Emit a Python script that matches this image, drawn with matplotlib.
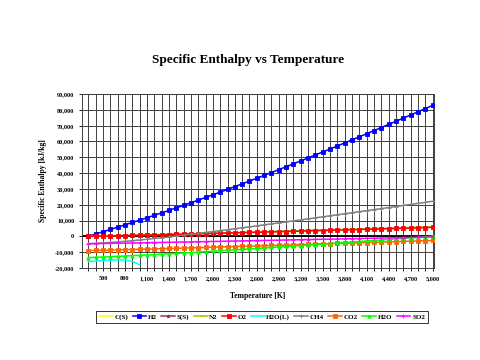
import matplotlib
matplotlib.use("Agg")
import matplotlib.pyplot as plt
from matplotlib.ticker import FuncFormatter

plt.rcParams['font.family'] = ['Liberation Serif', 'DejaVu Serif']

# Temperatures [K]
T = [298, 400, 500, 600, 700, 800, 900, 1000, 1100, 1200, 1300, 1400, 1500, 1600,
     1700, 1800, 1900, 2000, 2100, 2200, 2300, 2400, 2500, 2600, 2700, 2800, 2900,
     3000, 3100, 3200, 3300, 3400, 3500, 3600, 3700, 3800, 3900, 4000, 4100, 4200,
     4300, 4400, 4500, 4600, 4700, 4800, 4900, 5000]

# Specific enthalpy [kJ/kg]
C_S = [0, 87, 198, 317]
S_S = [0, 110]
H2 = [0, 1468, 2918, 4371, 5828, 7293, 8768, 10258, 11765, 13292, 14840, 16410,
      18001, 19614, 21248, 22901, 24574, 26265, 27975, 29701, 31442, 33199, 34969,
      36754, 38552, 40362, 42184, 44018, 45863, 47719, 49586, 51463, 53351, 55248,
      57155, 59072, 60998, 62934, 64879, 66832, 68796, 70767, 72748, 74737, 76735,
      78741, 80754, 82776]
N2 = [0, 106, 211, 317, 426, 537, 651, 766, 884, 1003, 1125, 1247, 1371, 1496,
      1622, 1748, 1876, 2004, 2133, 2262, 2392, 2522, 2652, 2783, 2914, 3046, 3178,
      3310, 3442, 3575, 3707, 3840, 3973, 4107, 4240, 4374, 4508, 4642, 4776, 4910,
      5045, 5179, 5314, 5449, 5584, 5720, 5855, 5991]
O2 = [0, 95, 190, 289, 391, 495, 601, 709, 819, 930, 1042, 1155, 1269, 1383, 1499,
      1615, 1732, 1849, 1968, 2087, 2206, 2327, 2448, 2569, 2692, 2815, 2939, 3063,
      3188, 3313, 3439, 3566, 3693, 3820, 3948, 4077, 4205, 4334, 4464, 4594, 4725,
      4855, 4987, 5118, 5250, 5383, 5515, 5648]
H2O_L = [-15900, -15600, -15300, -15050, -14900, -14950, -15800, -17900]
CH4 = [-4667, -4426, -4156, -3849, -3505, -3129, -2722, -2287, -1828, -1347, -846,
       -328, 204, 750, 1308, 1875, 2452, 3037, 3629, 4227, 4831, 5440, 6053, 6671,
       7292, 7917, 8545, 9175, 9809, 10445, 11083, 11723, 12365, 13009, 13654, 14302,
       14951, 15602, 16254, 16908, 17563, 18219, 18876, 19535, 20194, 20855, 21516,
       22179]
CO2 = [-8942, -8851, -8753, -8648, -8538, -8423, -8305, -8183, -8058, -7931, -7802,
       -7672, -7540, -7406, -7272, -7137, -7001, -6864, -6727, -6589, -6450, -6311,
       -6171, -6032, -5891, -5751, -5610, -5469, -5327, -5185, -5043, -4901, -4758,
       -4616, -4473, -4329, -4186, -4042, -3898, -3754, -3610, -3466, -3321, -3176,
       -3032, -2886, -2741, -2596]
H2O = [-13424, -13232, -13039, -12841, -12636, -12424, -12206, -11980, -11748,
       -11508, -11262, -11009, -10751, -10487, -10218, -9944, -9665, -9383, -9097,
       -8808, -8515, -8220, -7922, -7622, -7319, -7014, -6708, -6399, -6089, -5777,
       -5463, -5149, -4833, -4515, -4197, -3877, -3556, -3235, -2912, -2589, -2264,
       -1939, -1613, -1287, -959, -631, -302, 27]
SO2 = [-4634, -4567, -4497, -4422, -4344, -4263, -4180, -4096, -4011, -3924, -3836,
       -3748, -3659, -3570, -3480, -3390, -3300, -3209, -3118, -3027, -2935, -2844,
       -2752, -2660, -2567, -2475, -2382, -2289, -2196, -2103, -2010, -1917, -1823,
       -1729, -1636, -1542, -1448, -1354, -1260, -1166, -1071, -977, -882, -788, -693,
       -598, -503, -409]

series = [
    ("C(S)", C_S, "#FFFF00", None),
    ("H2", H2, "#0000FF", "s"),
    ("S(S)", S_S, "#993366", "*"),
    ("N2", N2, "#99CC00", "_"),
    ("O2", O2, "#FF0000", "s"),
    ("H2O(L)", H2O_L, "#00FFFF", None),
    ("CH4", CH4, "#808080", "+"),
    ("CO2", CO2, "#FF6600", "s"),
    ("H2O", H2O, "#00FF00", "^"),
    ("SO2", SO2, "#FF00FF", "+"),
]

fig = plt.figure(figsize=(4.8, 3.6), dpi=100)
ax = fig.add_axes([82/480, 1-268/360, (434-82)/480, (268-94)/360])

ax.axhline(0, color='black', lw=1.3, zorder=1.5)
for name, vals, col, mk in series:
    ax.plot(T[:len(vals)], vals, color=col, lw=1.1, marker=mk, markersize=2.4,
            markeredgewidth=0.6, label=name, zorder=3)

ax.set_xlim(213, 5020)
ax.set_ylim(-20000, 90000)
ax.set_yticks(range(-20000, 90001, 10000))
ax.yaxis.set_major_formatter(FuncFormatter(lambda v, p: f"{int(v):,}"))
ax.set_xticks(T)
ax.set_xticklabels([f"{t:,}" if (t >= 500 and (t - 500) % 300 == 0) else "" for t in T])
ax.grid(True, color='#404040', lw=0.7)
ax.set_axisbelow(True)
ax.tick_params(axis='both', labelsize=4.5, length=2, width=0.6, direction='out')
for lab in ax.get_xticklabels() + ax.get_yticklabels():
    lab.set_fontweight('bold')
for s in ax.spines.values():
    s.set_color('#404040')
    s.set_linewidth(0.7)

ax.set_xlabel("Temperature [K]", fontsize=5.5, fontweight='bold', labelpad=8)
ax.set_ylabel("Specific Enthalpy [kJ/kg]", fontsize=5.5, fontweight='bold', labelpad=6)
fig.text(248/480, 1-60/360, "Specific Enthalpy vs Temperature", ha='center', va='center',
         fontsize=9.5, fontweight='bold')

leg = fig.legend(loc='center', bbox_to_anchor=(262/480, 1-317/360), ncol=10,
                 fontsize=5, frameon=True, fancybox=False, handlelength=2.0,
                 columnspacing=0.6, handletextpad=0.25, borderpad=0.4)
leg.get_frame().set_edgecolor('black')
leg.get_frame().set_linewidth(0.7)
for t in leg.get_texts():
    t.set_fontweight('bold')

fig.savefig("out.png", dpi=100, facecolor='white')
